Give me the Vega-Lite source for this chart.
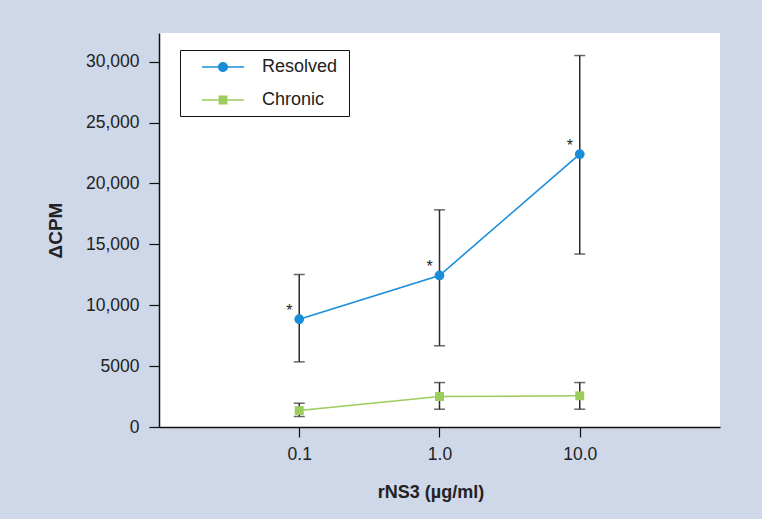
{
  "$schema": "https://vega.github.io/schema/vega-lite/v6.json",
  "width": 561,
  "height": 394,
  "autosize": "none",
  "padding": {"left": 159, "top": 33, "right": 42, "bottom": 92},
  "background": "#cfd8e9",
  "config": {
    "view": {"fill": "white", "stroke": null},
    "font": "Liberation Sans",
    "legend": {
      "orient": "none",
      "legendX": 21,
      "legendY": 17,
      "strokeColor": "#111",
      "fillColor": "white",
      "padding": 7,
      "symbolSize": 400,
      "symbolOffset": 26,
      "labelOffset": 29,
      "rowPadding": 14,
      "labelFontSize": 18,
      "labelColor": "#222",
      "symbolStrokeWidth": 0,
      "symbolOpacity": 1,
      "titleOrient": "right",
      "titleFontSize": 18,
      "titlePadding": 5
    }
  },
  "data": {
    "values": [
      {"series": "Resolved", "dose": 0.1, "mean": 8850, "lo": 5350, "hi": 12520, "sig": "*"},
      {"series": "Resolved", "dose": 1, "mean": 12440, "lo": 6670, "hi": 17830, "sig": "*"},
      {"series": "Resolved", "dose": 10, "mean": 22400, "lo": 14200, "hi": 30500, "sig": "*"},
      {"series": "Chronic", "dose": 0.1, "mean": 1350, "lo": 860, "hi": 1950, "sig": ""},
      {"series": "Chronic", "dose": 1, "mean": 2500, "lo": 1460, "hi": 3650, "sig": ""},
      {"series": "Chronic", "dose": 10, "mean": 2560, "lo": 1460, "hi": 3650, "sig": ""}
    ]
  },
  "encoding": {
    "x": {
      "field": "dose",
      "type": "quantitative",
      "scale": {"type": "log", "domain": [0.01, 100], "nice": false},
      "axis": {
        "title": "rNS3 (µg/ml)",
        "values": [0.1, 1, 10],
        "format": ".1f",
        "grid": false,
        "domainColor": "#111",
        "domainWidth": 1.5,
        "tickColor": "#111",
        "tickWidth": 1.2,
        "tickSize": 10,
        "labelPadding": 8,
        "labelFontSize": 17.5,
        "labelColor": "#222",
        "titleFontSize": 18,
        "titleFontWeight": "bold",
        "titleColor": "#222",
        "titleX": 271.5,
        "titleY": 70,
        "titleAlign": "center",
        "titleBaseline": "alphabetic"
      }
    }
  },
  "layer": [
    {
      "mark": {"type": "point", "filled": true, "opacity": 0},
      "encoding": {
        "y": {
          "field": "mean",
          "type": "quantitative",
          "scale": {"domain": [0, 32350], "nice": false},
          "axis": {
            "title": "ΔCPM",
            "values": [0, 5000, 10000, 15000, 20000, 25000, 30000],
            "labelExpr": "datum.value >= 10000 ? format(datum.value, ',') : format(datum.value, 'd')",
            "grid": false,
            "domainColor": "#111",
            "domainWidth": 1.5,
            "tickColor": "#111",
            "tickWidth": 1.2,
            "tickSize": 10,
            "labelPadding": 10,
            "labelFontSize": 17.5,
            "labelColor": "#222",
            "titleFontSize": 19,
            "titleFontWeight": "bold",
            "titleColor": "#222",
            "titleAngle": -90,
            "titleX": -104,
            "titleY": 197,
            "titleAlign": "center",
            "titleBaseline": "middle"
          }
        },
        "color": {
          "field": "series",
          "type": "nominal",
          "scale": {"domain": ["Resolved", "Chronic"], "range": ["#1a8dd8", "#9ccc5c"]},
          "legend": {"title": "\u2002"}
        },
        "shape": {
          "field": "series",
          "type": "nominal",
          "scale": {
            "domain": ["Resolved", "Chronic"],
            "range": [
              "M-2.1,-0.08L2.1,-0.08L2.1,0.08L-2.1,0.08ZM-0.5,0A0.5,0.5,0,1,1,0.5,0A0.5,0.5,0,1,1,-0.5,0Z",
              "M-2.1,-0.08L2.1,-0.08L2.1,0.08L-2.1,0.08ZM-0.44,-0.44L0.44,-0.44L0.44,0.44L-0.44,0.44Z"
            ]
          },
          "legend": {"title": "\u2002"}
        }
      }
    },
    {
      "mark": {"type": "rule", "color": "#2a2a2a", "strokeWidth": 1.5},
      "encoding": {
        "y": {"field": "lo", "type": "quantitative"},
        "y2": {"field": "hi"}
      }
    },
    {
      "mark": {"type": "tick", "orient": "horizontal", "color": "#2a2a2a", "size": 11, "thickness": 1.5},
      "encoding": {"y": {"field": "lo", "type": "quantitative"}}
    },
    {
      "mark": {"type": "tick", "orient": "horizontal", "color": "#2a2a2a", "size": 11, "thickness": 1.5},
      "encoding": {"y": {"field": "hi", "type": "quantitative"}}
    },
    {
      "mark": {"type": "line", "strokeWidth": 1.6},
      "encoding": {
        "y": {"field": "mean", "type": "quantitative"},
        "color": {"field": "series", "type": "nominal", "legend": {"title": "\u2002"}}
      }
    },
    {
      "transform": [{"filter": "datum.series === 'Resolved'"}],
      "mark": {"type": "point", "filled": true, "opacity": 1, "shape": "circle", "size": 95},
      "encoding": {
        "y": {"field": "mean", "type": "quantitative"},
        "color": {"field": "series", "type": "nominal", "legend": {"title": "\u2002"}}
      }
    },
    {
      "transform": [{"filter": "datum.series === 'Chronic'"}],
      "mark": {"type": "point", "filled": true, "opacity": 1, "shape": "square", "size": 80},
      "encoding": {
        "y": {"field": "mean", "type": "quantitative"},
        "color": {"field": "series", "type": "nominal", "legend": {"title": "\u2002"}}
      }
    },
    {
      "mark": {"type": "text", "fontSize": 16, "color": "#222", "dx": -10, "dy": -8, "baseline": "middle", "align": "center"},
      "encoding": {
        "y": {"field": "mean", "type": "quantitative"},
        "text": {"field": "sig"}
      }
    }
  ]
}
